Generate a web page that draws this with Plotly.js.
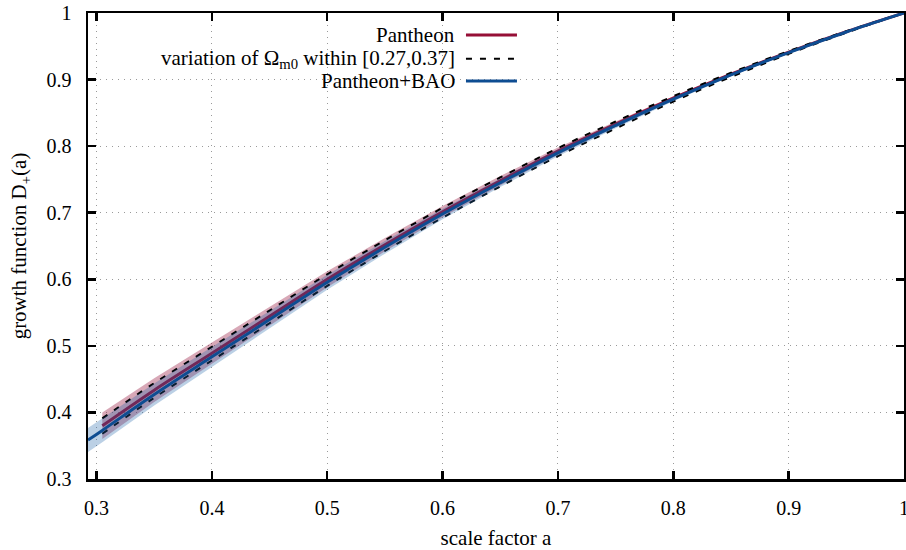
<!DOCTYPE html>
<html>
<head>
<meta charset="utf-8">
<script src="https://cdn.plot.ly/plotly-3.0.1.min.js"></script>
<style>
html,body{margin:0;padding:0;background:#fff;}
#chart{width:906px;height:550px;}
</style>
</head>
<body>
<div id="chart"></div>
<script>
// ---- data ----
// scale factor grid for the Pantheon+BAO fit
const aBAO = [0.2926, 0.305, 0.35, 0.40, 0.45, 0.50, 0.55, 0.60, 0.65, 0.70, 0.75, 0.80, 0.85, 0.90, 0.95, 1.00];
const dBAO = [0.3585, 0.373, 0.427, 0.4835, 0.5395, 0.5955, 0.648, 0.698, 0.745, 0.790, 0.831, 0.8705, 0.907, 0.9405, 0.9715, 1.000];
const errBAO = [0.018, 0.0178, 0.0165, 0.0148, 0.013, 0.0112, 0.0095, 0.008, 0.0065, 0.0052, 0.004, 0.003, 0.002, 0.0012, 0.0005, 0.0];

// scale factor grid for the Pantheon fit and the Omega_m0 variation
const aPan = [0.305, 0.35, 0.40, 0.45, 0.50, 0.55, 0.60, 0.65, 0.70, 0.75, 0.80, 0.85, 0.90, 0.95, 1.00];
const dPan = [0.380, 0.4335, 0.489, 0.5445, 0.600, 0.652, 0.7015, 0.748, 0.7925, 0.833, 0.872, 0.908, 0.9413, 0.9719, 1.000];
const errPan = [0.020, 0.018, 0.016, 0.014, 0.012, 0.010, 0.0085, 0.007, 0.0055, 0.0042, 0.003, 0.002, 0.0012, 0.0005, 0.0];
const dOmLow  = [0.391, 0.444, 0.4985, 0.553, 0.6075, 0.6585, 0.7073, 0.753, 0.797, 0.837, 0.875, 0.9102, 0.9428, 0.9727, 1.000]; // Omega_m0 = 0.27
const dOmHigh = [0.368, 0.422, 0.478, 0.534, 0.590, 0.6425, 0.6925, 0.7395, 0.785, 0.8265, 0.867, 0.904, 0.9385, 0.9705, 1.000]; // Omega_m0 = 0.37

const xTicks = [0.3, 0.4, 0.5, 0.6, 0.7, 0.8, 0.9, 1.0];
const yTicks = [0.3, 0.4, 0.5, 0.6, 0.7, 0.8, 0.9, 1.0];
const legendLabels = ["Pantheon", "variation of \u03A9<sub>m0</sub> within [0.27,0.37]", "Pantheon+BAO"];

// ---- styles ----
const RED = "#960f37";
const BLUE = "#0e4d92";
const FONT = "Liberation Serif, Times New Roman, serif";

function band(a, d, e) {
  const up = d.map((v, i) => v + e[i]);
  const lo = d.map((v, i) => v - e[i]);
  return { x: a.concat(a.slice().reverse()), y: up.concat(lo.slice().reverse()) };
}
const bPan = band(aPan, dPan, errPan);
const bBAO = band(aBAO, dBAO, errBAO);

const traces = [
  { x: bPan.x, y: bPan.y, type: "scatter", mode: "lines", fill: "toself",
    fillcolor: "rgba(150,20,60,0.37)", line: { width: 0 }, hoverinfo: "skip", showlegend: false },
  { x: aPan, y: dPan, type: "scatter", mode: "lines", name: legendLabels[0],
    line: { color: RED, width: 3, shape: "spline" }, showlegend: false },
  { x: aPan, y: dOmLow, type: "scatter", mode: "lines", name: "Omega_m0=0.27",
    line: { color: "#000", width: 2, dash: "6px,8px", shape: "spline" }, showlegend: false },
  { x: aPan, y: dOmHigh, type: "scatter", mode: "lines", name: "Omega_m0=0.37",
    line: { color: "#000", width: 2, dash: "6px,8px", shape: "spline" }, showlegend: false },
  { x: bBAO.x, y: bBAO.y, type: "scatter", mode: "lines", fill: "toself",
    fillcolor: "rgba(30,100,170,0.30)", line: { width: 0 }, hoverinfo: "skip", showlegend: false },
  { x: aBAO, y: dBAO, type: "scatter", mode: "lines", name: legendLabels[2],
    line: { color: BLUE, width: 3, shape: "spline" }, showlegend: false }
];

// legend drawn gnuplot-style: right-aligned text with sample line on the right
const legY = [0.953, 0.902, 0.854];
const legTextX = 0.452;
const legX0 = 0.4632, legX1 = 0.5257;
const legendStyles = [
  { color: RED, width: 3, dash: "solid" },
  { color: "#000", width: 2, dash: "6px,8px" },
  { color: BLUE, width: 3, dash: "solid" }
];
const annotations = legendLabels.map((t, i) => ({
  text: t, xref: "paper", yref: "paper", x: legTextX, y: legY[i],
  xanchor: "right", yanchor: "middle", showarrow: false,
  font: { family: FONT, size: 21, color: "#000" }
}));
const shapes = legendStyles.map((s, i) => ({
  type: "line", xref: "paper", yref: "paper", x0: legX0, x1: legX1, y0: legY[i], y1: legY[i],
  line: s
}));

const axisCommon = {
  showline: true, linecolor: "#000", linewidth: 2.5, mirror: "ticks",
  ticks: "inside", ticklen: 8, tickwidth: 2.5, tickcolor: "#000",
  showgrid: true, gridcolor: "#9a9a9a", gridwidth: 1, griddash: "1px,5px",
  zeroline: false, ticklabeloverflow: "allow",
  tickfont: { family: FONT, size: 20, color: "#000" }
};

const layout = {
  width: 906, height: 550,
  margin: { l: 88, r: 2, t: 13, b: 71 },
  paper_bgcolor: "#fff", plot_bgcolor: "#fff",
  font: { family: FONT, size: 20, color: "#000" },
  xaxis: Object.assign({}, axisCommon, {
    range: [0.2926, 1.0], tickvals: xTicks, ticktext: xTicks.map(v => v === 1 ? "1" : v.toFixed(1)),
    ticklabelstandoff: 9,
    title: { text: "scale factor a", font: { family: FONT, size: 21, color: "#000" }, standoff: 16 }
  }),
  yaxis: Object.assign({}, axisCommon, {
    range: [0.3, 1.0], tickvals: yTicks, ticktext: yTicks.map(v => v === 1 ? "1" : v.toFixed(1)),
    ticklabelstandoff: 10,
    title: { text: "growth function D<sub>+</sub>(a)", font: { family: FONT, size: 21, color: "#000" }, standoff: 14 }
  }),
  showlegend: false,
  annotations: annotations,
  shapes: shapes
};

Plotly.newPlot("chart", traces, layout, { staticPlot: true, displayModeBar: false });
</script>
</body>
</html>
